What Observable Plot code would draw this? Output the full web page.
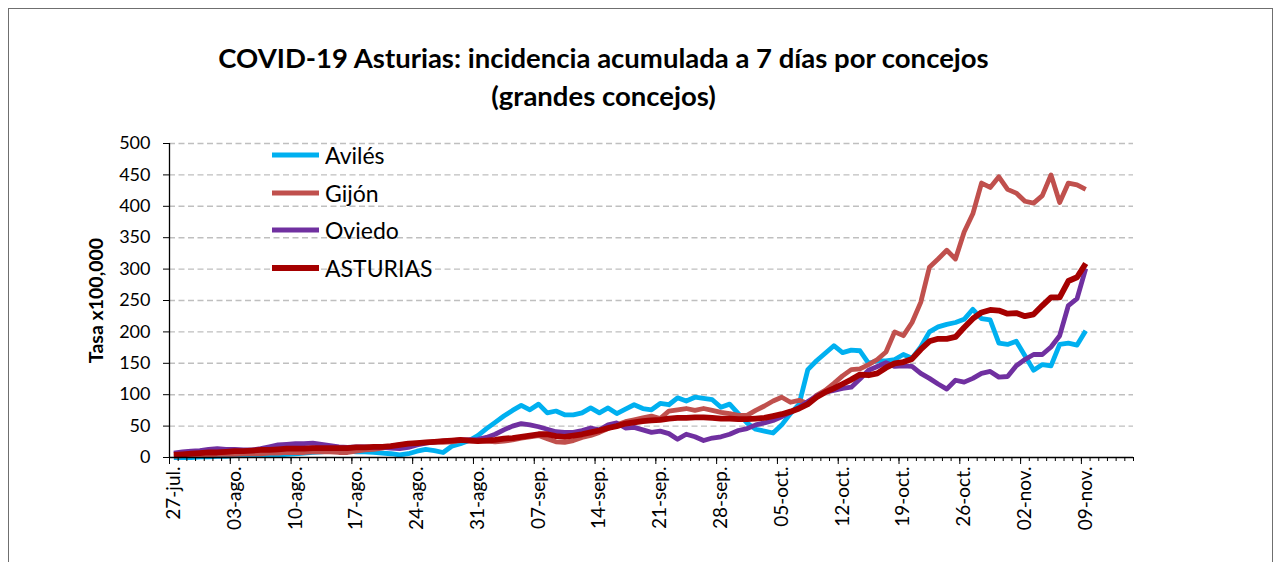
<!DOCTYPE html>
<html>
<head>
<meta charset="utf-8">
<script src="https://cdn.jsdelivr.net/npm/d3@7"></script>
<script src="https://cdn.jsdelivr.net/npm/@observablehq/plot@0.6"></script>
<style>
  body { margin: 0; background: #fff; font-family: Lato, sans-serif; }
  #wrap { position: relative; width: 1282px; height: 562px; overflow: hidden; background: #fff; }
  #border { position: absolute; left: 8px; top: 8px; width: 1265px; height: 620px; border: 1px solid #6f6f6f; box-sizing: border-box; }
  #chart { position: absolute; left: 0; top: 0; }
  #legend { position: absolute; left: 272px; top: 136px; font-family: Lato, sans-serif; font-size: 23px; color: #000; }
  .item { display: flex; align-items: center; height: 37.7px; }
  .item svg { margin-right: 6px; }
</style>
</head>
<body>
<div id="wrap"><div id="border"></div><div id="chart"></div><div id="legend"></div></div>
<script>
// ---- data (27-jul-2020 onward, one value per day) ----
const startDay = "2020-07-27";
const seriesNames = ["Avilés", "Gijón", "Oviedo", "ASTURIAS"];
const seriesColors = ["#00B0F0", "#C0504D", "#7030A0", "#A50000"];

const aviles = [
  0,0,0,1,1,2,2,3,3,3,
  3,4,4,5,6,7,8,9,10,10,
  10,9,9,8,7,6,4,6,10,13,
  11,8,18,22,27,35,46,56,66,75,
  83,76,85,71,74,68,68,71,79,71,
  79,70,77,84,78,76,86,84,95,90,
  96,94,92,80,85,70,55,45,42,39,
  52,70,85,140,154,166,178,167,171,170,
  150,154,154,156,164,158,176,200,208,212,
  215,220,236,221,219,182,180,185,162,139,
  148,146,180,182,179,202
];
const gijon = [
  2,3,3,4,4,5,5,5,6,6,
  6,7,7,8,8,8,9,9,9,8,
  8,10,12,13,15,18,20,22,23,24,
  25,24,25,27,28,27,26,25,26,28,
  31,33,35,30,25,24,27,32,35,40,
  46,52,57,60,63,66,62,74,76,78,
  75,78,75,72,70,67,67,75,82,90,
  96,88,91,86,99,107,118,130,140,141,
  148,156,168,200,194,215,247,303,316,330,
  316,359,388,437,430,447,427,421,408,405,
  417,450,406,437,434,427
];
const oviedo = [
  7,9,10,11,13,14,13,13,12,12,
  14,17,20,21,22,22,23,21,19,17,
  16,17,17,16,16,15,14,16,20,23,
  25,26,27,28,28,29,32,37,44,50,
  54,52,49,45,41,40,40,43,47,44,
  52,55,47,48,44,40,42,38,29,37,
  33,27,31,33,37,43,46,52,55,59,
  65,72,80,89,98,104,107,110,112,125,
  139,145,151,145,146,145,134,126,117,109,
  123,120,126,134,137,128,129,146,156,164,
  164,176,194,242,253,301
];
const asturias = [
  4,5,6,7,8,8,9,10,10,11,
  12,12,13,14,14,14,15,15,15,15,
  15,16,16,17,17,18,20,22,23,24,
  25,26,27,28,27,26,27,28,30,31,
  33,35,37,37,34,33,35,37,40,43,
  47,50,54,56,58,59,60,62,63,63,
  64,64,63,62,62,61,61,62,63,66,
  69,73,78,85,96,104,110,117,124,132,
  131,134,143,150,152,157,172,185,189,189,
  192,207,221,231,235,234,229,230,225,228,
  242,255,255,281,287,309
];
const xTickLabels = ["27-jul.","03-ago.","10-ago.","17-ago.","24-ago.","31-ago.","07-sep.","14-sep.",
  "21-sep.","28-sep.","05-oct.","12-oct.","19-oct.","26-oct.","02-nov.","09-nov."];
const yTicks = [0,50,100,150,200,250,300,350,400,450,500];
const nCategories = 111;
const titleLines = ["COVID-19 Asturias: incidencia acumulada a 7 días por concejos", "(grandes concejos)"];
const yLabel = "Tasa x100,000";

// ---- build ----
const DAY = 864e5;
const t0 = new Date(startDay + "T00:00:00Z").getTime();
const valuesList = [aviles, gijon, oviedo, asturias];
const rows = valuesList.flatMap((vals, s) => vals.map((v, i) => ({date: new Date(t0 + i * DAY), value: v, name: seriesNames[s]})));
const domain = [new Date(t0 - 0.5 * DAY), new Date(t0 + (nCategories - 0.5) * DAY)];
const minorTicks = d3.range(nCategories + 1).map(i => new Date(t0 + (i - 0.5) * DAY));
const majorTicks = d3.range(0, nCategories + 1, 7).map(i => new Date(t0 + (i - 0.5) * DAY));
const labelTicks = xTickLabels.map((_, k) => new Date(t0 + 7 * k * DAY));
const labelOf = d => xTickLabels[Math.round((d.getTime() - t0) / DAY / 7)];
const widths = [4.8, 4.8, 4.8, 5.8];

const plot = Plot.plot({
  width: 1282, height: 562,
  marginLeft: 169, marginRight: 149, marginTop: 143, marginBottom: 105,
  x: {type: "utc", domain},
  y: {domain: [0, 500]},
  style: {fontFamily: "Lato, sans-serif", color: "#000", background: "transparent", overflow: "visible"},
  marks: [
    Plot.gridY(yTicks.filter(v => v > 0), {stroke: "#bfbfbf", strokeOpacity: 1, strokeWidth: 1.4, strokeDasharray: "6,3.5"}),
    ...seriesNames.map((n, s) => Plot.line(rows.filter(r => r.name === n), {
      x: "date", y: "value", stroke: seriesColors[s], strokeWidth: widths[s], strokeLinejoin: "round", strokeLinecap: "butt"
    })),
    Plot.ruleY([0], {stroke: "#000", strokeWidth: 1.3}),
    Plot.ruleX([domain[0]], {stroke: "#000", strokeWidth: 1.3}),
    Plot.axisY({ticks: yTicks, tickSize: 6, tickPadding: 13, fontSize: 18, label: null}),
    Plot.axisX({ticks: minorTicks, tickSize: 4, tickFormat: () => "", label: null}),
    Plot.axisX({ticks: majorTicks, tickSize: 7, tickFormat: () => "", label: null}),
    Plot.axisX({ticks: labelTicks, tickSize: 0, tickPadding: 9, tickRotate: -90, fontSize: 19, tickFormat: labelOf, label: null}),
    Plot.text([yLabel], {text: d => d, frameAnchor: "left", textAnchor: "middle", lineAnchor: "middle", dx: -73, rotate: -90, fontSize: 19.5, fontWeight: "bold"}),
    Plot.text([titleLines[0]], {text: d => d, frameAnchor: "top", lineAnchor: "middle", dx: -48, dy: -84, fontSize: 27.5, fontWeight: "bold"}),
    Plot.text([titleLines[1]], {text: d => d, frameAnchor: "top", lineAnchor: "middle", dx: -48, dy: -46, fontSize: 27.5, fontWeight: "bold"})
  ]
});
document.getElementById("chart").appendChild(plot);

// legend
const leg = document.getElementById("legend");
seriesNames.forEach((n, s) => {
  const it = document.createElement("div");
  it.className = "item";
  it.innerHTML = `<svg width="47" height="8"><line x1="0" x2="47" y1="4" y2="4" stroke="${seriesColors[s]}" stroke-width="${widths[s]}"/></svg><span>${n}</span>`;
  leg.appendChild(it);
});
</script>
</body>
</html>
